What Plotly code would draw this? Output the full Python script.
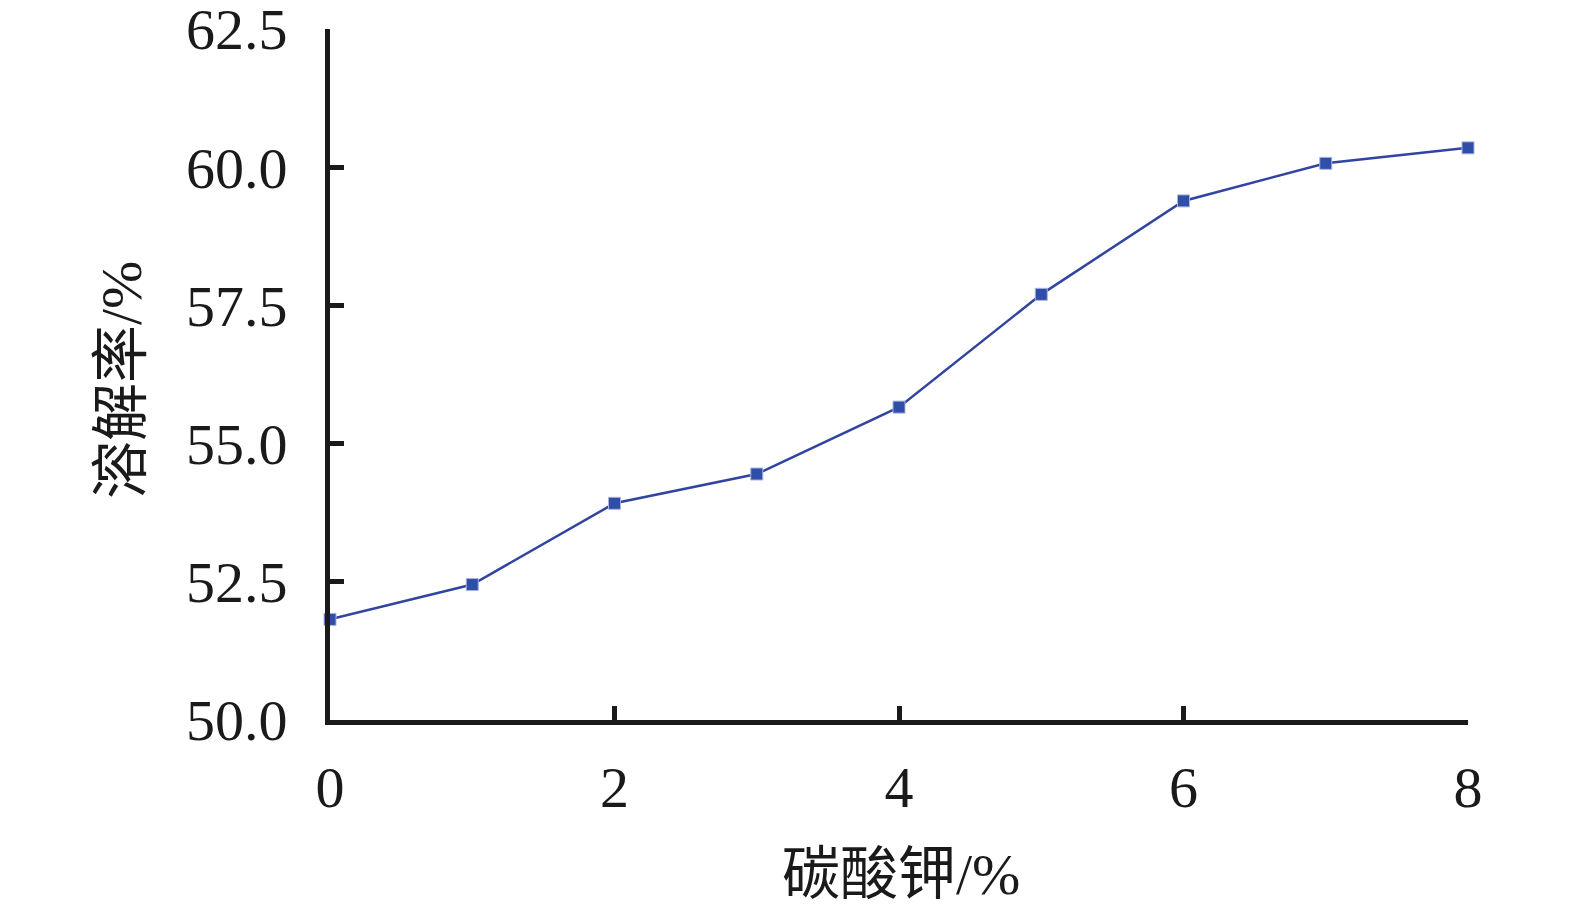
import plotly.graph_objects as go

x_vals = [0, 1, 2, 3, 4, 5, 6, 7, 8]
rate = [51.82, 52.45, 53.92, 54.45, 55.66, 57.70, 59.39, 60.07, 60.35]
x_ticks = [0, 2, 4, 6, 8]
y_ticks = [50.0, 52.5, 55.0, 57.5, 60.0, 62.5]
x_title = "碳酸钾/%"
y_title = "溶解率/%"

W, H = 1575, 911
L, R, T, B = 322, 115, 21, 199
FONT = "Liberation Serif, Noto Sans CJK SC, serif"

fig = go.Figure()
fig.add_trace(go.Scatter(
    x=x_vals, y=rate, mode="lines+markers",
    line=dict(color="#31449f", width=2.5),
    marker=dict(symbol="square", size=12, color="#2f4ea8",
                line=dict(color="#a9b3dc", width=1)),
    cliponaxis=False, showlegend=False,
))

fig.update_layout(
    width=W, height=H,
    margin=dict(l=L, r=R, t=T, b=B, autoexpand=False),
    paper_bgcolor="white", plot_bgcolor="white",
    font=dict(family=FONT, color="#1a1a1a", size=58),
    xaxis=dict(
        range=[0, 8], tickvals=x_ticks, ticktext=[str(v) for v in x_ticks],
        showgrid=False, zeroline=False, showline=True,
        linecolor="#1a1a1a", linewidth=5,
        ticks="inside", ticklen=14, tickwidth=5, tickcolor="#1a1a1a",
        ticklabelstandoff=12, ticklabeloverflow="allow",
        tickfont=dict(family=FONT, size=58, color="#1a1a1a"),
    ),
    yaxis=dict(
        range=[50, 62.5], tickvals=y_ticks, ticktext=[f"{v:.1f}" for v in y_ticks],
        showgrid=False, zeroline=False, showline=True,
        linecolor="#1a1a1a", linewidth=5,
        ticks="inside", ticklen=14, tickwidth=5, tickcolor="#1a1a1a",
        ticklabelstandoff=26, ticklabeloverflow="allow",
        tickfont=dict(family=FONT, size=58, color="#1a1a1a"),
    ),
    annotations=[
        dict(text=x_title, xref="paper", yref="paper",
             x=(893 - L) / (W - L - R), y=-(866 - (H - B)) / (H - T - B),
             xanchor="center", yanchor="middle", showarrow=False,
             font=dict(family=FONT, size=58, color="#1a1a1a")),
        dict(text=y_title, xref="paper", yref="paper",
             x=-(L - 113) / (W - L - R), y=1 - (372 - T) / (H - T - B),
             xanchor="center", yanchor="middle", showarrow=False, textangle=-90,
             font=dict(family=FONT, size=58, color="#1a1a1a")),
    ],
)

fig.write_html("out.html")
